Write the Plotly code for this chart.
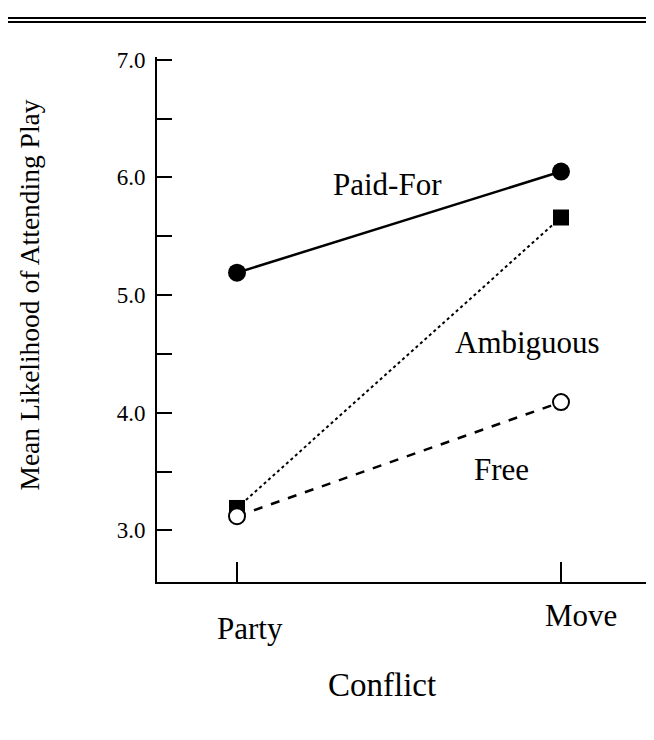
import plotly.graph_objects as go

# ---- data ----
conflict = ["Party", "Move"]
paid_for = [5.19, 6.05]
ambiguous = [3.19, 5.66]
free = [3.12, 4.09]
y_ticks = [3.0, 3.5, 4.0, 4.5, 5.0, 5.5, 6.0, 6.5, 7.0]
y_ticktext = ["3.0", "", "4.0", "", "5.0", "", "6.0", "", "7.0"]
series_labels = ["Paid-For", "Ambiguous", "Free"]

W, H = 654, 740
OFF_X = 8          # page offset, horizontal
OFF_Y, SY = 15, 0.993  # page offset / scale, vertical
FONT = "Liberation Serif, Times New Roman, serif"
xpos = [0, 1]

fig = go.Figure()
fig.add_trace(go.Scatter(x=xpos, y=paid_for, mode="lines+markers", name=series_labels[0],
                         line=dict(color="black", width=2.5, dash="solid"),
                         marker=dict(symbol="circle", size=18, color="black")))
fig.add_trace(go.Scatter(x=xpos, y=ambiguous, mode="lines+markers", name=series_labels[1],
                         line=dict(color="black", width=2, dash="dot"),
                         marker=dict(symbol="square", size=16, color="black")))
fig.add_trace(go.Scatter(x=xpos, y=free, mode="lines+markers", name=series_labels[2],
                         line=dict(color="black", width=2.5, dash="dash"),
                         marker=dict(symbol="circle", size=16, color="white",
                                     line=dict(color="black", width=2))))

def px(xp):
    return (xp - OFF_X) / W

def py(yp):
    return 1 - ((yp - OFF_Y) / SY) / H

# pixel geometry (screen px of the reference)
x_left_px, x_right_px = 157, 654 + OFF_X
party_px, move_px = 237, 561
unit_x = move_px - party_px
xr = [(x_left_px - party_px) / unit_x, 1 + (x_right_px - move_px) / unit_x]
y_top_px, y_bot_px = 55, 583
px7, px3 = 58, 531
unit_y = (px3 - px7) / 4
yr = [3 - (y_bot_px - px3) / unit_y, 7 + (px7 - y_top_px) / unit_y]

def ann(text, x, y, size, angle=0):
    return dict(text=text, x=px(x), y=py(y), xref="paper", yref="paper", showarrow=False,
                xanchor="center", yanchor="middle", textangle=angle,
                font=dict(size=size, family=FONT, color="black"))

annotations = [
    ann(conflict[0], 250, 630, 31),
    ann(conflict[1], 581, 617, 31),
    ann("Conflict", 382, 686, 33),
    ann("Mean Likelihood of Attending Play", 30, 295, 27.5, -90),
    ann(series_labels[0], 387, 183, 31),
    ann(series_labels[1], 527, 342, 31),
    ann(series_labels[2], 502, 470, 31),
]

shapes = [
    dict(type="line", xref="paper", yref="paper", x0=0, x1=1, y0=1 - 1 / H, y1=1 - 1 / H,
         line=dict(color="black", width=2)),
    dict(type="line", xref="paper", yref="paper", x0=0, x1=1, y0=1 - 5 / H, y1=1 - 5 / H,
         line=dict(color="black", width=2)),
]

fig.update_layout(
    width=W, height=H,
    margin=dict(l=0, r=0, t=0, b=0),
    paper_bgcolor="white", plot_bgcolor="white",
    showlegend=False,
    annotations=annotations,
    shapes=shapes,
    xaxis=dict(domain=[px(x_left_px), min(1, px(x_right_px))], range=xr, showgrid=False,
               zeroline=False, showline=True, linecolor="black", linewidth=2,
               tickvals=xpos, ticktext=["", ""], ticks="inside", ticklen=20, tickwidth=2,
               tickcolor="black", fixedrange=True),
    yaxis=dict(domain=[py(y_bot_px), py(y_top_px)], range=yr, showgrid=False, zeroline=False,
               showline=True, linecolor="black", linewidth=2,
               tickvals=y_ticks, ticktext=y_ticktext, ticks="inside", ticklen=15, tickwidth=2,
               tickcolor="black", ticklabelstandoff=5,
               tickfont=dict(size=23, family=FONT, color="black"), fixedrange=True),
)

fig.write_html("out.html")
